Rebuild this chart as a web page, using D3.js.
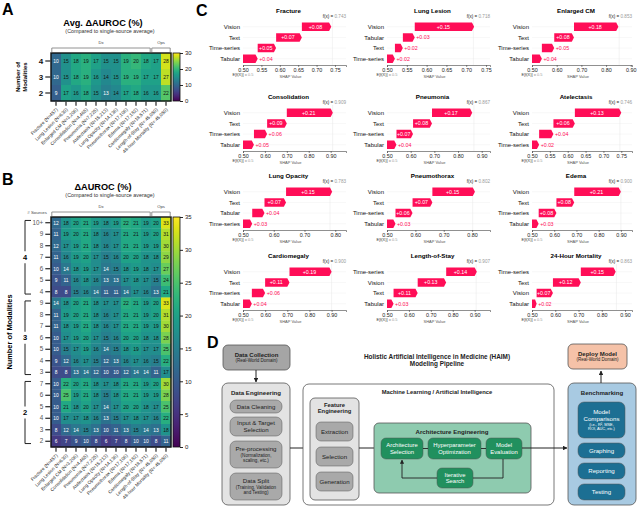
<!DOCTYPE html>
<html>
<head>
<meta charset="utf-8">
<script src="https://cdn.jsdelivr.net/npm/d3@7"></script>
<style>
  body { margin: 0; background: #fff; }
  svg { font-family: "Liberation Sans", Arial, Helvetica, sans-serif; }
</style>
</head>
<body>
<svg id="fig" width="640" height="511"></svg>
<script>
// ---- heatmap data (panels A and B) ----
const diseaseLabels = [
  'Fracture (N=457)', 'Lung Lesion (N=630)', 'Enlarged CM (N=3,206)',
  'Consolidation (N=4,465)', 'Pneumonia (N=7,225)', 'Atelectasis (N=15,213)',
  'Lung Opacity (N=14,136)', 'Pneumothorax (N=17,106)', 'Edema (N=17,182)',
  'Cardiomegaly (N=18,571)', 'Length-of-Stay (N= 45,050)', '48-hour Mortality (N= 45,050)'
];
const dxCount = 10; // first 10 tasks are Dx, last 2 are Ops

const avgModalities = ['4', '3', '2'];
const avgDelta = [
  [10, 15, 18, 19, 17, 15, 15, 19, 20, 18, 17, 28],
  [10, 15, 18, 19, 16, 14, 15, 19, 19, 17, 17, 27],
  [9, 17, 16, 18, 15, 13, 14, 17, 18, 16, 16, 22]
];

const sourceCounts = ['10+', '9', '8', '7', '6', '5', '4',
  '9', '8', '7', '6', '5', '4', '3',
  '7', '6', '5', '4', '3', '2'];
const sourceModality = [4, 4, 4, 4, 4, 4, 4, 3, 3, 3, 3, 3, 3, 3, 2, 2, 2, 2, 2, 2];
const deltaBySources = [
  [12, 18, 20, 21, 19, 18, 19, 22, 21, 19, 20, 33],
  [11, 19, 20, 21, 18, 16, 17, 21, 21, 19, 20, 31],
  [12, 17, 19, 21, 18, 16, 17, 21, 21, 19, 19, 30],
  [11, 16, 19, 20, 17, 15, 16, 20, 20, 18, 18, 29],
  [10, 14, 18, 19, 17, 14, 15, 18, 19, 18, 17, 27],
  [9, 11, 16, 18, 16, 13, 13, 17, 18, 17, 15, 24],
  [8, 8, 15, 16, 14, 11, 11, 14, 17, 16, 13, 21],
  [14, 18, 20, 21, 18, 17, 17, 22, 21, 19, 20, 33],
  [11, 19, 20, 21, 18, 16, 17, 21, 21, 19, 20, 31],
  [11, 18, 19, 21, 18, 16, 17, 21, 21, 19, 19, 30],
  [10, 17, 19, 20, 17, 15, 16, 20, 20, 18, 18, 28],
  [10, 15, 17, 19, 16, 14, 15, 18, 19, 17, 17, 25],
  [9, 12, 16, 17, 15, 12, 13, 16, 17, 16, 15, 22],
  [8, 8, 13, 14, 12, 10, 10, 12, 14, 14, 11, 17],
  [10, 22, 20, 21, 18, 17, 18, 21, 21, 19, 20, 30],
  [10, 25, 19, 21, 18, 15, 18, 21, 21, 19, 19, 28],
  [10, 21, 18, 20, 17, 14, 17, 20, 20, 18, 17, 25],
  [10, 17, 17, 18, 16, 13, 15, 17, 18, 17, 16, 22],
  [8, 12, 14, 15, 13, 10, 11, 13, 15, 14, 13, 18],
  [6, 7, 9, 10, 8, 6, 7, 8, 10, 10, 8, 11]
];

// ---- SHAP waterfall data (panel C) ----
const shapTasks = ['Fracture', 'Lung Lesion', 'Enlarged CM', 'Consolidation', 'Pneumonia',
  'Atelectasis', 'Lung Opacity', 'Pneumothorax', 'Edema', 'Cardiomegaly',
  'Length-of-Stay', '24-Hour Mortality'];
const shapFeatures = [
  ['Vision', 'Text', 'Time-series', 'Tabular'],
  ['Vision', 'Tabular', 'Text', 'Time-series'],
  ['Vision', 'Text', 'Time-series', 'Tabular'],
  ['Vision', 'Text', 'Time-series', 'Tabular'],
  ['Vision', 'Text', 'Time-series', 'Tabular'],
  ['Vision', 'Text', 'Tabular', 'Time-series'],
  ['Vision', 'Text', 'Tabular', 'Time-series'],
  ['Vision', 'Text', 'Time-series', 'Tabular'],
  ['Vision', 'Text', 'Time-series', 'Tabular'],
  ['Vision', 'Text', 'Time-series', 'Tabular'],
  ['Time-series', 'Vision', 'Text', 'Tabular'],
  ['Time-series', 'Text', 'Vision', 'Tabular']
];
const shapValues = [
  [0.08, 0.07, 0.05, 0.04],
  [0.15, 0.03, 0.02, 0.02],
  [0.18, 0.08, 0.05, 0.04],
  [0.21, 0.09, 0.06, 0.05],
  [0.17, 0.08, 0.07, 0.04],
  [0.13, 0.06, 0.04, 0.02],
  [0.15, 0.07, 0.04, 0.03],
  [0.15, 0.07, 0.06, 0.03],
  [0.21, 0.08, 0.08, 0.03],
  [0.19, 0.11, 0.06, 0.04],
  [0.14, 0.13, 0.11, 0.03],
  [0.15, 0.12, 0.07, 0.02]
];
const shapFx = [0.743, 0.718, 0.853, 0.909, 0.867, 0.746, 0.783, 0.802, 0.900, 0.900, 0.907, 0.863];
const shapBase = 0.5;
const ticksFine = [0.50, 0.55, 0.60, 0.65, 0.70, 0.75];
const ticksTo80 = [0.5, 0.6, 0.7, 0.8];
const ticksTo90 = [0.5, 0.6, 0.7, 0.8, 0.9];
const shapTicks = [ticksFine, ticksFine, ticksTo90, ticksTo90, ticksTo90, ticksFine,
  ticksTo80, ticksTo80, ticksTo90, ticksTo90, ticksTo90, ticksTo90];
const shapDomainMax = [0.78, 0.76, 0.905, 0.97, 0.935, 0.78, 0.835, 0.863, 0.95, 0.965, 0.97, 0.93];

const svg = d3.select('#fig');
const defs = svg.append('defs');

function panelLetter(x, y, t) {
  svg.append('text').attr('x', x).attr('y', y).attr('font-size', 16)
    .attr('font-weight', 'bold').text(t);
}

// ---------------- heatmaps ----------------
const HM_LEFT = 51, HM_RIGHT = 171;

function drawHeatmap(opt) {
  const g = svg.append('g');
  const x = d3.scaleBand().domain(d3.range(diseaseLabels.length)).range([HM_LEFT, HM_RIGHT]);
  const y = d3.scaleBand().domain(d3.range(opt.values.length)).range([opt.top, opt.bottom]);
  const color = d3.scaleSequential(d3.interpolateViridis).domain([0, opt.vmax]);

  const cells = [];
  opt.values.forEach((row, r) => row.forEach((v, c) => cells.push({ r, c, v })));

  g.selectAll('rect.cell').data(cells).join('rect')
    .attr('class', 'cell')
    .attr('x', d => x(d.c)).attr('y', d => y(d.r))
    .attr('width', x.bandwidth() + 0.3).attr('height', y.bandwidth() + 0.3)
    .attr('fill', d => color(d.v));

  g.selectAll('text.val').data(cells).join('text')
    .attr('class', 'val')
    .attr('x', d => x(d.c) + x.bandwidth() / 2)
    .attr('y', d => y(d.r) + y.bandwidth() / 2)
    .attr('dy', '0.36em').attr('text-anchor', 'middle').attr('font-size', 4.9)
    .attr('fill', d => d.v <= opt.whiteBelow ? '#fff' : '#111')
    .text(d => d.v);

  g.append('rect').attr('x', HM_LEFT).attr('y', opt.top)
    .attr('width', HM_RIGHT - HM_LEFT).attr('height', opt.bottom - opt.top)
    .attr('fill', 'none').attr('stroke', '#111').attr('stroke-width', 1.4);

  // row axis
  const yAxis = g.append('g').attr('transform', `translate(${HM_LEFT - 0.7},0)`)
    .call(d3.axisLeft(y).tickSize(5).tickPadding(2).tickFormat(i => opt.rowLabels[i]));
  yAxis.select('.domain').remove();
  yAxis.selectAll('line').attr('stroke', '#111').attr('stroke-width', 1.1);
  yAxis.selectAll('text').attr('font-size', opt.rowFont).attr('font-weight', opt.rowBold ? 'bold' : 'normal')
    .attr('fill', opt.rowBold ? '#111' : '#555').attr('font-family', null);

  // column axis
  const xAxis = g.append('g').attr('transform', `translate(0,${opt.bottom + 0.7})`)
    .call(d3.axisBottom(x).tickSize(4).tickFormat(''));
  xAxis.select('.domain').remove();
  xAxis.selectAll('line').attr('stroke', '#111').attr('stroke-width', 1.1);

  g.selectAll('text.col').data(diseaseLabels).join('text')
    .attr('class', 'col')
    .attr('transform', (d, i) => `translate(${x(i) + x.bandwidth() / 2 + 2},${opt.bottom + 9}) rotate(-45)`)
    .attr('text-anchor', 'end').attr('font-size', 4.7).attr('fill', '#222')
    .text(d => d);

  // Dx / Ops brackets
  const yb = opt.top - 5;
  const brackets = [
    { label: 'Dx', a: 0, b: dxCount - 1 },
    { label: 'Ops', a: dxCount, b: diseaseLabels.length - 1 }
  ];
  brackets.forEach(br => {
    const x0 = x(br.a) + 0.8, x1 = x(br.b) + x.bandwidth() - 0.8;
    g.append('path').attr('d', `M${x0},${yb + 4}V${yb}H${x1}V${yb + 4}`)
      .attr('fill', 'none').attr('stroke', '#777').attr('stroke-width', 0.8);
    g.append('text').attr('x', (x0 + x1) / 2).attr('y', yb - 4)
      .attr('text-anchor', 'middle').attr('font-size', 4.2).attr('fill', '#444').text(br.label);
  });

  // titles
  g.append('text').attr('x', 103).attr('y', opt.top - 27).attr('text-anchor', 'middle')
    .attr('font-size', 9.2).attr('font-weight', 'bold').text(opt.title);
  g.append('text').attr('x', 110).attr('y', opt.top - 20).attr('text-anchor', 'middle')
    .attr('font-size', 5.4).attr('fill', '#333').text('(Compared to single-source average)');

  // colorbar
  const gid = 'vir' + opt.id;
  const grad = defs.append('linearGradient').attr('id', gid)
    .attr('x1', 0).attr('x2', 0).attr('y1', 1).attr('y2', 0);
  d3.range(0, 1.0001, 0.05).forEach(t => {
    grad.append('stop').attr('offset', t).attr('stop-color', d3.interpolateViridis(t));
  });
  const cbX = HM_RIGHT + 2, cbW = 7;
  g.append('rect').attr('x', cbX).attr('y', opt.top).attr('width', cbW)
    .attr('height', opt.bottom - opt.top).attr('fill', `url(#${gid})`)
    .attr('stroke', '#111').attr('stroke-width', 0.8);
  const cs = d3.scaleLinear().domain([0, opt.vmax]).range([opt.bottom, opt.top]);
  const cAxis = g.append('g').attr('transform', `translate(${cbX + cbW},0)`)
    .call(d3.axisRight(cs).tickValues(opt.cbTicks).tickSize(3).tickPadding(2));
  cAxis.select('.domain').remove();
  cAxis.selectAll('line').attr('stroke', '#111').attr('stroke-width', 0.9);
  cAxis.selectAll('text').attr('font-size', 6).attr('fill', '#222').attr('font-family', null);

  return { g, x, y };
}

// ---- Panel A ----
panelLetter(2, 15, 'A');
const hmA = drawHeatmap({
  id: 'A', values: avgDelta, rowLabels: avgModalities, top: 53, bottom: 101, vmax: 30,
  cbTicks: [0, 10, 20, 30], title: 'Avg. \u0394AUROC (%)', rowFont: 8, rowBold: true, whiteBelow: 13
});
svg.append('text').attr('transform', 'translate(20,77) rotate(-90)').attr('text-anchor', 'middle')
  .attr('font-size', 6).attr('font-weight', 'bold').text('Number of');
svg.append('text').attr('transform', 'translate(27,77) rotate(-90)').attr('text-anchor', 'middle')
  .attr('font-size', 6).attr('font-weight', 'bold').text('Modalities');

// ---- Panel B ----
panelLetter(2, 185, 'B');
const hmB = drawHeatmap({
  id: 'B', values: deltaBySources, rowLabels: sourceCounts, top: 217, bottom: 447, vmax: 35,
  cbTicks: d3.range(0, 36, 5), title: '\u0394AUROC (%)', rowFont: 6.3, rowBold: false, whiteBelow: 14
});
svg.append('text').attr('x', 47).attr('y', 214).attr('text-anchor', 'end')
  .attr('font-size', 4.4).attr('fill', '#444').text('# Sources');

const modalityGroups = d3.groups(d3.range(sourceModality.length), i => sourceModality[i]);
modalityGroups.forEach(([m, idx]) => {
  const y = hmB.y;
  const yT = y(idx[0]) + y.bandwidth() * 0.3;
  const yB = y(idx[idx.length - 1]) + y.bandwidth() * 0.7;
  const ym = (yT + yB) / 2;
  svg.append('path').attr('d', `M31,${yT}H25V${ym - 6}M25,${ym + 6}V${yB}H31`)
    .attr('fill', 'none').attr('stroke', '#222').attr('stroke-width', 1);
  svg.append('text').attr('x', 25).attr('y', ym).attr('dy', '0.36em').attr('text-anchor', 'middle')
    .attr('font-size', 7.5).attr('font-weight', 'bold').text(m);
});
svg.append('text').attr('transform', 'translate(12,332) rotate(-90)').attr('text-anchor', 'middle')
  .attr('font-size', 7.4).attr('font-weight', 'bold').text('Number of Modalities');

// ---------------- Panel C: SHAP waterfalls ----------------
panelLetter(196, 16, 'C');
const colX0 = [243, 387, 532];
const colX1 = [346, 490, 632];
const rowTitleY = [13, 99, 178, 258];
const SHAP_RED = '#ff0d57';

shapTasks.forEach((task, k) => {
  const col = k % 3, row = Math.floor(k / 3);
  const top = rowTitleY[row];
  const g = svg.append('g');
  const x = d3.scaleLinear().domain([shapBase, shapDomainMax[k]]).range([colX0[col], colX1[col]]);
  const y = d3.scaleBand().domain(d3.range(4)).range([top + 9.5, top + 50]).paddingInner(0.2);
  const vals = shapValues[k];
  const starts = vals.map((v, i) => shapBase + d3.sum(vals.slice(i + 1)));
  const axisY = top + 52;

  g.append('text').attr('x', (x.range()[0] + x.range()[1]) / 2 - 6).attr('y', top)
    .attr('text-anchor', 'middle').attr('font-size', 6.2).attr('font-weight', 'bold').text(task);
  const fx = g.append('text').attr('x', x.range()[1]).attr('y', top + 5)
    .attr('text-anchor', 'end').attr('font-size', 4.6);
  fx.append('tspan').attr('fill', '#222').text('f(x) = ');
  fx.append('tspan').attr('fill', '#999').text(d3.format('.3f')(shapFx[k]));

  // faint guides
  vals.forEach((v, i) => {
    g.append('line').attr('x1', x.range()[0]).attr('x2', x.range()[1])
      .attr('y1', y(i) + y.bandwidth() / 2).attr('y2', y(i) + y.bandwidth() / 2)
      .attr('stroke', '#eee').attr('stroke-width', 0.5);
  });
  g.append('line').attr('x1', x(shapFx[k])).attr('x2', x(shapFx[k]))
    .attr('y1', top + 6).attr('y2', axisY).attr('stroke', '#e6e6e6').attr('stroke-width', 0.5);

  vals.forEach((v, i) => {
    const xs = x(starts[i]), xe = x(starts[i] + v);
    const yt = y(i), h = y.bandwidth(), yc = yt + h / 2;
    const tip = Math.min(2.2, (xe - xs) / 3);
    g.append('path')
      .attr('d', `M${xs},${yt}H${xe - tip}L${xe},${yc}L${xe - tip},${yt + h}H${xs}Z`)
      .attr('fill', SHAP_RED);
    const label = '+' + d3.format('.2f')(v);
    const inside = (xe - xs) > 16;
    g.append('text').attr('x', inside ? (xs + xe - tip) / 2 : xe + 1.5).attr('y', yc)
      .attr('dy', '0.36em').attr('text-anchor', inside ? 'middle' : 'start')
      .attr('font-size', 5.3).attr('fill', inside ? '#fff' : SHAP_RED).text(label);
    g.append('text').attr('x', x.range()[0] - 3).attr('y', yc).attr('dy', '0.36em')
      .attr('text-anchor', 'end').attr('font-size', 6).attr('fill', '#111').text(shapFeatures[k][i]);
  });

  const ax = g.append('g').attr('transform', `translate(0,${axisY})`)
    .call(d3.axisBottom(x).tickValues(shapTicks[k]).tickFormat(d3.format('.2f')).tickSize(2).tickPadding(1));
  ax.select('.domain').attr('stroke', '#444').attr('stroke-width', 0.6);
  ax.selectAll('line').attr('stroke', '#444').attr('stroke-width', 0.6);
  ax.selectAll('text').attr('font-size', 5.4).attr('fill', '#222').attr('font-family', null);

  const ef = g.append('text').attr('x', x(shapBase)).attr('y', axisY + 11)
    .attr('text-anchor', 'middle').attr('font-size', 3.9);
  ef.append('tspan').attr('fill', '#333').text('E[f(X)]');
  ef.append('tspan').attr('fill', '#999').text(' = 0.5');
  g.append('text').attr('x', (x.range()[0] + x.range()[1]) / 2 - 4).attr('y', axisY + 12.5)
    .attr('text-anchor', 'middle').attr('font-size', 4).attr('fill', '#555').text('SHAP Value');
});

// ---------------- Panel D: pipeline diagram ----------------
panelLetter(207, 348, 'D');
defs.append('marker').attr('id', 'arr').attr('viewBox', '0 0 10 10')
  .attr('refX', 9).attr('refY', 5).attr('markerWidth', 4.5).attr('markerHeight', 4.5)
  .attr('orient', 'auto').append('path').attr('d', 'M0,0L10,5L0,10z').attr('fill', '#222');

function box(x, y, w, h, fill, r, strokeW) {
  svg.append('rect').attr('x', x).attr('y', y).attr('width', w).attr('height', h)
    .attr('rx', r).attr('fill', fill).attr('stroke', '#555').attr('stroke-width', strokeW || 0.8);
}
// rows: [text, size, bold]
function lines(cx, cy, rows, color) {
  const total = d3.sum(rows, r => r[1] * 1.12);
  let yy = cy - total / 2;
  rows.forEach(r => {
    yy += r[1] * 1.12;
    svg.append('text').attr('x', cx).attr('y', yy - r[1] * 0.22).attr('text-anchor', 'middle')
      .attr('font-size', r[1]).attr('font-weight', r[2] ? 'bold' : 'normal')
      .attr('fill', color || '#222').text(r[0]);
  });
}
function arrow(x1, y1, x2, y2) {
  svg.append('line').attr('x1', x1).attr('y1', y1).attr('x2', x2).attr('y2', y2)
    .attr('stroke', '#222').attr('stroke-width', 1).attr('marker-end', 'url(#arr)');
}

const GRAY_OUT = '#e3e3e3', GRAY_IN = '#a9a9a9';
const GREEN_OUT = '#8ecbaf', GREEN_IN = '#21905e';
const BLUE_OUT = '#a8cae2', BLUE_IN = '#1c6f93';
const T_HEAD = 6.1, T_BOX = 6.1, T_SMALL = 4.6;

// title
lines(437, 360, [['Holistic Artificial Intelligence in Medicine (HAIM)', 6.4, true], ['Modeling Pipeline', 6.4, true]]);

// data collection
box(223, 345, 67, 25, '#a5a5a5', 5);
lines(256.5, 357.5, [['Data Collection', 6, true], ['(Real-World Domain)', 4.5, false]]);
arrow(256, 370, 256, 382);

// data engineering
box(222, 383, 68, 122, GRAY_OUT, 6);
lines(256, 392.5, [['Data Engineering', T_HEAD, true]]);
const dataEngSteps = [
  { y: 400, h: 13, t: [['Data Cleaning', T_BOX]] },
  { y: 417, h: 19, t: [['Input & Target', T_BOX], ['Selection', T_BOX]] },
  { y: 441, h: 27, t: [['Pre-processing', T_BOX], ['(Normalization,', T_SMALL], ['scaling, etc.)', T_SMALL]] },
  { y: 473, h: 27, t: [['Data Split', T_BOX], ['(Training, Validation', T_SMALL], ['and Testing)', T_SMALL]] }
];
dataEngSteps.forEach(s => { box(230, s.y, 52, s.h, GRAY_IN, 6, 0.5); lines(256, s.y + s.h / 2, s.t); });
arrow(290, 448, 309, 448);

// ML / AI container
box(303, 384, 251, 121, '#fff', 6);
lines(437, 392.5, [['Machine Learning / Artificial Intelligence', 5.8, true]]);

// feature engineering
box(310, 398, 49, 102, GRAY_OUT, 5);
lines(334.5, 408, [['Feature', 5.8, true], ['Engineering', 5.8, true]]);
const featureSteps = [['Extraction', 422], ['Selection', 447], ['Generation', 472]];
featureSteps.forEach(s => { box(316, s[1], 37, 19, GRAY_IN, 5, 0.5); lines(334.5, s[1] + 9.5, [[s[0], T_BOX]]); });
arrow(359, 448, 380, 448);

// architecture engineering
box(374, 423, 157, 70, GREEN_OUT, 5);
lines(452, 431.5, [['Architecture Engineering', T_HEAD, true]]);
const archSteps = [
  { x: 381, y: 438, w: 42, h: 21, t: ['Architecture', 'Selection'] },
  { x: 428, y: 438, w: 53, h: 21, t: ['Hyperparameter', 'Optimization'] },
  { x: 486, y: 438, w: 36, h: 21, t: ['Model', 'Evaluation'] },
  { x: 437, y: 468, w: 36, h: 20, t: ['Iterative', 'Search'] }
];
archSteps.forEach(s => {
  box(s.x, s.y, s.w, s.h, GREEN_IN, 5, 0.5);
  lines(s.x + s.w / 2, s.y + s.h / 2, s.t.map(t => [t, 5.9]), '#fff');
});
svg.append('path').attr('d', 'M423,448.5H428M481,448.5H486M503,459V478H473')
  .attr('fill', 'none').attr('stroke', '#222').attr('stroke-width', 0.9);
svg.append('path').attr('d', 'M437,478H402V460')
  .attr('fill', 'none').attr('stroke', '#222').attr('stroke-width', 0.9).attr('marker-end', 'url(#arr)');
arrow(522, 448, 567, 448);

// benchmarking
box(568, 383, 68, 122, BLUE_OUT, 6);
lines(602, 392.5, [['Benchmarking', T_HEAD, true]]);
box(578, 402, 47, 36, BLUE_IN, 6, 0.5);
lines(601.5, 420, [['Model', T_BOX], ['Comparisons', T_BOX], ['(i.e., R\u00b2, MSE,', 3.9], ['ROI, AUC, etc.)', 3.9]], '#fff');
const benchSteps = [['Graphing', 443, 15], ['Reporting', 463, 16], ['Testing', 484, 16]];
benchSteps.forEach(s => { box(578, s[1], 47, s[2], BLUE_IN, 6, 0.5); lines(601.5, s[1] + s[2] / 2, [[s[0], T_BOX]], '#fff'); });
arrow(601, 383, 601, 371);

// deploy
box(568, 344, 59, 25, '#f5c2a8', 5);
lines(597.5, 356.5, [['Deploy Model', 6, true], ['(Real-World Domain)', 4.5, false]]);
</script>
</body>
</html>
